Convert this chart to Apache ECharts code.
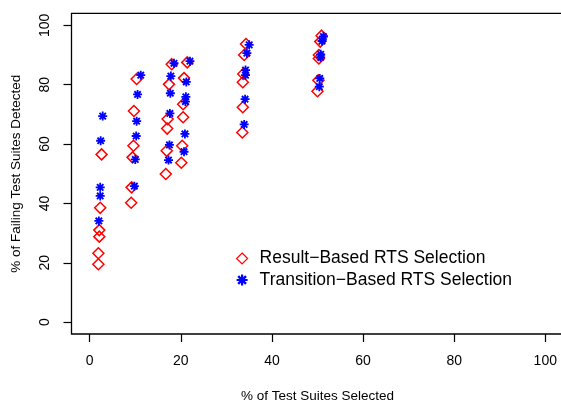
<!DOCTYPE html>
<html>
<head>
<meta charset="utf-8">
<script src="https://cdn.jsdelivr.net/npm/echarts@6/dist/echarts.min.js"></script>
<style>
html,body{margin:0;padding:0;background:#fff;}
#chart{width:561px;height:402px;}
</style>
</head>
<body>
<div id="chart"></div>
<script>
// ---- data ----
var tickValues = [0, 20, 40, 60, 80, 100];
var seriesNames = ['Result\u2212Based RTS Selection', 'Transition\u2212Based RTS Selection'];

var resultX = [2.6, 2.3, 2.1, 2.1, 1.9, 1.9,
               10.3, 9.7, 9.6, 9.4, 9.2, 9.1,
               18.0, 17.4, 17.1, 17.0, 16.9, 16.7,
               21.4, 20.7, 20.5, 20.5, 20.3, 20.1,
               34.3, 33.9, 33.7, 33.6, 33.6, 33.5,
               50.9, 50.6, 50.3, 50.3, 50.2, 50.0];
var resultY = [56.5, 38.5, 31.0, 28.8, 23.2, 19.5,
               81.9, 71.1, 59.4, 55.5, 45.4, 40.2,
               86.9, 80.1, 68.4, 65.2, 57.7, 49.9,
               87.5, 82.2, 73.4, 69.0, 59.4, 53.7,
               93.7, 90.0, 83.6, 80.8, 72.4, 63.9,
               96.5, 94.5, 90.0, 88.8, 81.5, 77.8];

var transitionX = [2.85, 2.4, 2.3, 2.3, 2.0,
                   11.2, 10.5, 10.3, 10.2, 10.0, 9.8,
                   18.5, 17.8, 17.7, 17.6, 17.5, 17.3,
                   22.0, 21.2, 21.1, 21.0, 20.9, 20.7,
                   35.0, 34.5, 34.2, 34.2, 34.1, 33.9,
                   51.3, 51.0, 50.7, 50.7, 50.5, 50.4];
var transitionY = [69.4, 61.1, 45.4, 42.5, 34.1,
                   83.2, 76.7, 67.7, 62.7, 54.8, 45.8,
                   87.2, 82.9, 77.1, 70.3, 59.7, 54.6,
                   87.9, 80.9, 75.9, 74.3, 63.4, 57.4,
                   93.4, 90.6, 84.9, 83.2, 75.1, 66.6,
                   96.2, 94.7, 90.2, 89.2, 82.1, 79.3];

function zip(xs, ys) { return xs.map(function (x, i) { return [x, ys[i]]; }); }

var FONT = '"Liberation Sans", Arial, Helvetica, sans-serif';
var asterisk = 'path://M0 40L100 40L100 60L0 60Z M40 0L60 0L60 100L40 100Z ' +
  'M22 7L93 78L78 93L7 22Z M78 7L93 22L22 93L7 78Z';

var chart = echarts.init(document.getElementById('chart'), null, {renderer: 'canvas'});
chart.setOption({
  animation: false,
  backgroundColor: '#ffffff',
  textStyle: {fontFamily: FONT},
  grid: {
    left: 71.5, top: 13.4, width: 492, height: 320.6,
    outerBoundsMode: 'none', containLabel: false,
    show: true, borderColor: '#000', borderWidth: 1.3, backgroundColor: 'transparent'
  },
  xAxis: {
    type: 'value', min: -4, max: 104,
    name: '% of Test Suites Selected', nameLocation: 'middle', nameGap: 55,
    nameTextStyle: {fontSize: 13.5, color: '#000', fontFamily: FONT},
    axisLine: {show: false, onZero: false},
    splitLine: {show: false},
    axisTick: {show: true, customValues: tickValues, length: 8, lineStyle: {color: '#000', width: 1.2}},
    axisLabel: {show: true, customValues: tickValues, fontSize: 14, color: '#000', margin: 20.5, fontFamily: FONT}
  },
  yAxis: {
    type: 'value', min: -4, max: 104,
    name: '% of Failing Test Suites Detected', nameLocation: 'middle', nameGap: 48, nameRotate: 90,
    nameTextStyle: {fontSize: 13.5, color: '#000', fontFamily: FONT},
    axisLine: {show: false, onZero: false},
    splitLine: {show: false},
    axisTick: {show: true, customValues: tickValues, length: 8, lineStyle: {color: '#000', width: 1.2}},
    axisLabel: {show: true, customValues: tickValues, fontSize: 14, color: '#000', margin: 19, rotate: 90, fontFamily: FONT}
  },
  legend: {
    orient: 'vertical', left: 236, top: 249.5, padding: 0,
    itemWidth: 11, itemHeight: 11, itemGap: 3.5,
    itemStyle: {borderWidth: 1.2},
    textStyle: {fontSize: 17.5, color: '#000', lineHeight: 17, padding: [0, 0, 0, 7], fontFamily: FONT},
    data: seriesNames
  },
  series: [
    {
      name: seriesNames[0], type: 'scatter', symbol: 'diamond', symbolSize: [11, 11],
      itemStyle: {color: 'rgba(0,0,0,0)', borderColor: '#ff0000', borderWidth: 1.5, opacity: 1},
      data: zip(resultX, resultY), z: 2
    },
    {
      name: seriesNames[1], type: 'scatter', symbol: asterisk, symbolSize: [9, 9],
      itemStyle: {color: '#0000ff', opacity: 1},
      data: zip(transitionX, transitionY), z: 3
    }
  ]
});
</script>
</body>
</html>
